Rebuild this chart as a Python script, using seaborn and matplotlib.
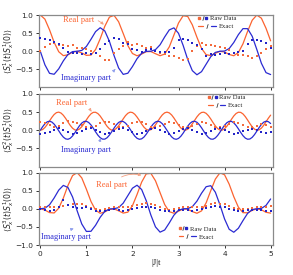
import numpy as np
import pandas as pd
import matplotlib
matplotlib.use("Agg")
import matplotlib.pyplot as plt
import seaborn as sns
from matplotlib.lines import Line2D
from matplotlib.legend_handler import HandlerTuple

# ---------------- data ----------------
t_coarse = np.round(np.arange(51) * 0.1, 2)      # 0 .. 5 step 0.1
t_fine = np.round(np.arange(101) * 0.05, 3)      # 0 .. 5 step 0.05

# panel 1 exact
re1 = [1.000, 0.885, 0.591, 0.247, -0.014, -0.121, -0.097, -0.027, -0.001, -0.046,
       -0.113, -0.106, 0.048, 0.344, 0.689, 0.941, 0.990, 0.813, 0.489, 0.157,
       -0.062, -0.125, -0.077, -0.012, -0.008, -0.068, -0.123, -0.078, 0.121, 0.446,
       0.778, 0.979, 0.960, 0.728, 0.387, 0.078, -0.096, -0.118, -0.055, -0.003,
       -0.020, -0.089, -0.124, -0.036, 0.206, 0.548, 0.856, 0.998, 0.911, 0.633, 0.287]
im1 = [0.000, -0.374, -0.609, -0.635, -0.485, -0.265, -0.089, -0.010, 0.000, 0.023,
       0.131, 0.330, 0.542, 0.649, 0.560, 0.274, -0.116, -0.462, -0.638, -0.606,
       -0.423, -0.205, -0.055, -0.003, 0.001, 0.044, 0.179, 0.395, 0.589, 0.645,
       0.495, 0.164, -0.228, -0.535, -0.649, -0.563, -0.357, -0.151, -0.031, 0.000,
       0.006, 0.074, 0.241, 0.459, 0.624, 0.623, 0.413, 0.050, -0.333, -0.590, -0.643]

# panel 2 exact (fine grid)
re2 = [0.000, 0.020, 0.076, 0.159, 0.257, 0.354, 0.434, 0.486, 0.500, 0.474,
       0.413, 0.327, 0.228, 0.133, 0.056, 0.010, 0.002, 0.033, 0.098, 0.187,
       0.286, 0.380, 0.453, 0.494, 0.496, 0.460, 0.392, 0.299, 0.199, 0.108,
       0.039, 0.003, 0.007, 0.049, 0.122, 0.216, 0.315, 0.404, 0.468, 0.499,
       0.489, 0.442, 0.364, 0.270, 0.172, 0.085, 0.025, 0.000, 0.015, 0.067,
       0.148, 0.245, 0.343, 0.426, 0.481, 0.500, 0.479, 0.423, 0.339, 0.241,
       0.144, 0.064, 0.014, 0.001, 0.027, 0.088, 0.175, 0.274, 0.369, 0.445,
       0.491, 0.498, 0.466, 0.400, 0.311, 0.211, 0.118, 0.046, 0.006, 0.004,
       0.041, 0.111, 0.204, 0.303, 0.394, 0.462, 0.497, 0.493, 0.450, 0.376,
       0.282, 0.183, 0.094, 0.031, 0.001, 0.011, 0.059, 0.137, 0.233, 0.331, 0.417]
im2 = [0.000, 0.097, 0.179, 0.233, 0.250, 0.227, 0.169, 0.084, -0.015, -0.111,
       -0.189, -0.238, -0.249, -0.221, -0.158, -0.070, 0.029, 0.124, 0.198, 0.242,
       0.247, 0.214, 0.146, 0.056, -0.044, -0.136, -0.206, -0.245, -0.245, -0.206,
       -0.134, -0.041, 0.058, 0.148, 0.215, 0.248, 0.241, 0.197, 0.122, 0.027,
       -0.072, -0.160, -0.222, -0.249, -0.237, -0.188, -0.109, -0.012, 0.086, 0.171,
       0.228, 0.250, 0.232, 0.178, 0.095, -0.002, -0.099, -0.181, -0.234, -0.250,
       -0.226, -0.167, -0.082, 0.017, 0.113, 0.191, 0.239, 0.249, 0.220, 0.156,
       0.068, -0.031, -0.125, -0.200, -0.243, -0.247, -0.212, -0.144, -0.054, 0.046,
       0.138, 0.208, 0.246, 0.244, 0.204, 0.132, 0.039, -0.060, -0.150, -0.216,
       -0.248, -0.241, -0.196, -0.120, -0.025, 0.074, 0.161, 0.223, 0.249, 0.237, 0.186]

# panel 3 exact
re3 = [0.000, -0.036, -0.106, -0.116, 0.015, 0.295, 0.641, 0.915, 0.997, 0.851,
       0.540, 0.201, -0.040, -0.125, -0.087, -0.019, -0.003, -0.057, -0.119, -0.094,
       0.083, 0.394, 0.735, 0.963, 0.977, 0.772, 0.444, 0.116, -0.081, -0.123,
       -0.066, -0.007, -0.013, -0.078, -0.125, -0.059, 0.164, 0.498, 0.818, 0.992,
       0.937, 0.679, 0.333, 0.043, -0.108, -0.112, -0.045, -0.001, -0.029, -0.098, -0.121]
im3 = [0.000, 0.015, 0.109, 0.297, 0.514, 0.644, 0.587, 0.325, -0.058, -0.420,
       -0.626, -0.622, -0.455, -0.235, -0.071, -0.006, 0.000, 0.032, 0.155, 0.362,
       0.567, 0.649, 0.530, 0.220, -0.173, -0.500, -0.645, -0.586, -0.391, -0.178,
       -0.042, -0.001, 0.003, 0.057, 0.210, 0.428, 0.608, 0.636, 0.456, 0.108,
       -0.282, -0.566, -0.648, -0.538, -0.326, -0.128, -0.022, 0.000, 0.010, 0.092, 0.270]

# raw data (step 0.1)
raw1_re = [0.00, 0.12, 0.20, 0.23, 0.18, 0.17, 0.15, 0.16, 0.10, 0.08,
           0.05, 0.00, -0.05, -0.14, -0.23, -0.23, -0.05, 0.06, 0.15, 0.26,
           0.16, 0.20, 0.14, 0.10, 0.12, 0.00, -0.05, -0.08, -0.12, -0.14,
           -0.18, -0.25, -0.22, 0.00, 0.15, 0.23, 0.18, 0.16, 0.14, 0.12,
           0.08, 0.04, -0.05, -0.10, -0.11, -0.12, -0.18, -0.14, -0.05, 0.06, 0.14]
raw1_im = [0.37, 0.34, 0.30, 0.26, 0.19, 0.08, -0.03, -0.06, -0.05, -0.07,
           -0.05, -0.07, -0.04, 0.05, 0.20, 0.27, 0.36, 0.34, 0.24, 0.20,
           0.06, 0.03, -0.01, 0.03, 0.05, 0.00, -0.02, -0.01, -0.02, 0.10,
           0.30, 0.34, 0.30, 0.24, 0.16, 0.05, -0.12, -0.08, -0.09, -0.07,
           -0.05, -0.08, -0.05, -0.03, 0.02, 0.19, 0.32, 0.30, 0.28, 0.24, 0.09]
raw2_re = [0.22, 0.20, 0.15, 0.10, 0.12, 0.20, 0.25, 0.24, 0.20, 0.15,
           0.10, 0.08, 0.12, 0.20, 0.24, 0.22, 0.17, 0.10, 0.08, 0.12,
           0.20, 0.23, 0.22, 0.16, 0.10, 0.08, 0.12, 0.18, 0.22, 0.20,
           0.15, 0.10, 0.08, 0.12, 0.18, 0.22, 0.20, 0.15, 0.10, 0.08,
           0.12, 0.18, 0.22, 0.20, 0.14, 0.10, 0.08, 0.12, 0.18, 0.15, 0.10]
raw2_im = [-0.10, -0.08, -0.04, 0.02, 0.05, 0.00, -0.06, -0.10, -0.08, -0.02,
           0.04, 0.05, 0.00, -0.06, -0.10, -0.08, -0.02, 0.04, 0.06, 0.00,
           -0.06, -0.10, -0.08, -0.02, 0.04, 0.05, 0.00, -0.06, -0.09, -0.07,
           -0.02, 0.03, 0.05, 0.00, -0.06, -0.09, -0.07, -0.02, 0.03, 0.05,
           0.00, -0.05, -0.09, -0.08, -0.03, 0.02, 0.04, 0.00, -0.05, -0.08, -0.05]
raw3_re = [0.05, 0.06, 0.05, 0.04, 0.06, 0.08, 0.10, 0.12, 0.14, 0.12,
           0.08, 0.03, -0.02, -0.03, -0.02, 0.02, 0.05, 0.06, 0.05, 0.06,
           0.08, 0.10, 0.14, 0.16, 0.14, 0.10, 0.05, 0.00, -0.03, -0.02,
           0.01, 0.04, 0.06, 0.05, 0.04, 0.06, 0.08, 0.12, 0.15, 0.14,
           0.12, 0.08, 0.03, -0.01, -0.02, 0.00, 0.03, 0.05, 0.05, 0.06, 0.08]
raw3_im = [-0.02, -0.03, -0.05, -0.04, 0.05, 0.23, 0.10, 0.05, 0.03, 0.02,
           0.05, 0.00, -0.05, -0.06, -0.05, -0.03, -0.02, -0.03, -0.05, -0.04,
           -0.02, 0.02, 0.05, 0.06, 0.05, 0.02, -0.03, -0.05, -0.06, -0.05,
           -0.04, -0.03, -0.03, -0.05, -0.04, -0.02, 0.02, 0.05, 0.07, 0.06,
           0.04, 0.00, -0.04, -0.06, -0.05, -0.04, -0.03, -0.03, -0.04, -0.05, -0.05]

ylabels = [r"$\langle S_x^1(t)S_x^1(0)\rangle$",
           r"$\langle S_x^2(t)S_x^1(0)\rangle$",
           r"$\langle S_x^3(t)S_x^1(0)\rangle$"]
xtick_labels = ["0", "1", "2", "3", "4", "5"]
ann_real = "Real part"
ann_imag = "Imaginary part"
leg_raw = "Raw Data"
leg_exact = "Exact"

# ---------------- style ----------------
sns.set_style("ticks")
plt.rcParams["font.family"] = ["DejaVu Sans"]
plt.rcParams["mathtext.fontset"] = "dejavusans"

ORANGE = "#fb6330"
BLUE = "#2b2bd2"
ORANGE_RAW = "#f36a3c"
BLUE_RAW = "#2424c8"
ORANGE_ARR = "#f5a283"
BLUE_ARR = "#8e9eec"
SPINE = "#8a8a8a"
SERIF = ["Liberation Serif", "DejaVu Serif"]

fig = plt.figure(figsize=(2.93, 2.75), dpi=100)
ax_left = 38.7 / 293
ax_w = 234.0 / 293
tops = [15.0, 94.0, 172.5]
h_px = 72.5
axes = []
for top in tops:
    axes.append(fig.add_axes([ax_left, 1 - (top + h_px) / 275, ax_w, h_px / 275]))

panels = [
    (t_coarse, re1, im1, raw1_re, raw1_im),
    (t_fine, re2, im2, raw2_re, raw2_im),
    (t_coarse, re3, im3, raw3_re, raw3_im),
]

for i, (ax, (tt, re, im, rr, ri)) in enumerate(zip(axes, panels)):
    ex = pd.DataFrame({"t": tt, "re": re, "im": im})
    rw = pd.DataFrame({"t": t_coarse, "re": rr, "im": ri})
    sns.lineplot(data=ex, x="t", y="re", ax=ax, color=ORANGE, lw=0.9, estimator=None)
    sns.lineplot(data=ex, x="t", y="im", ax=ax, color=BLUE, lw=0.9, estimator=None)
    sns.scatterplot(data=rw, x="t", y="re", ax=ax, color=ORANGE_RAW, marker="s", s=3.5,
                    linewidth=0, zorder=3)
    sns.scatterplot(data=rw, x="t", y="im", ax=ax, color=BLUE_RAW, marker="s", s=3.5,
                    linewidth=0, zorder=3)
    ax.set_xlim(-0.035, 5.045)
    ax.set_ylim(-1.0, 1.0)
    ax.set_xticks(range(6))
    if i < 2:
        ax.set_yticks([-0.5, 0.0, 0.5, 1.0])
        ax.set_xticklabels([])
        ax.set_xlabel("")
    else:
        ax.set_yticks([-1.0, -0.5, 0.0, 0.5, 1.0])
        ax.set_xticklabels(xtick_labels)
        ax.set_xlabel("|J|t", fontsize=6.5, family=SERIF, labelpad=2)
    ax.set_ylabel(ylabels[i], fontsize=5.6)
    ax.yaxis.set_label_coords(-0.098, 0.5)
    ax.tick_params(axis="both", labelsize=5.3, length=2.5, width=0.7, color="#333333",
                   pad=1.5, direction="out")
    for sp in ax.spines.values():
        sp.set_visible(True)
        sp.set_color(SPINE)
        sp.set_linewidth(0.9)

# ---------------- annotations ----------------
arrow_kw = dict(arrowstyle="-|>", lw=0.6, mutation_scale=4, shrinkA=1, shrinkB=0.5)
ann = [
    # (axis, text, xytext, xy, color, arrowcolor, rad)
    (0, ann_real, (0.82, 0.87), (1.39, 0.72), ORANGE, ORANGE_ARR, -0.3),
    (0, ann_imag, (1.00, -0.73), (1.63, -0.49), BLUE, BLUE_ARR, 0.3),
    (1, ann_real, (0.68, 0.76), (1.12, 0.50), ORANGE, ORANGE_ARR, -0.3),
    (1, ann_imag, (1.00, -0.54), (1.32, -0.20), BLUE, BLUE_ARR, 0.3),
    (2, ann_real, (1.54, 0.66), (2.21, 0.92), ORANGE, ORANGE_ARR, -0.3),
    (2, ann_imag, (0.55, -0.79), (0.74, -0.54), BLUE, BLUE_ARR, -0.3),
]
for k, txt, xyt, xy, col, acol, rad in ann:
    axes[k].annotate(txt, xy=xy, xytext=xyt, color=col, fontsize=6, family=SERIF,
                     ha="center", va="center",
                     arrowprops=dict(color=acol, connectionstyle=f"arc3,rad={rad}", **arrow_kw))

# ---------------- legends ----------------
slash_m = Line2D([], [], ls="none", marker="$/$", color="#333333", markersize=3.0,
                 markeredgewidth=0.2)
h_raw = (Line2D([], [], ls="none", marker="s", color=ORANGE_RAW, markersize=1.8),
         slash_m,
         Line2D([], [], ls="none", marker="s", color=BLUE_RAW, markersize=1.8))
h_ex = (Line2D([], [], color=ORANGE, lw=0.9), slash_m, Line2D([], [], color=BLUE, lw=0.9))

leg_pos = [((0.68, 1.0), (0.68, 0.89)), ((0.72, 1.0), (0.72, 0.89)), ((0.595, 0.27), (0.595, 0.16))]
for ax, (p_raw, p_ex) in zip(axes, leg_pos):
    l1 = ax.legend([h_raw], [leg_raw], loc="upper left", bbox_to_anchor=p_raw,
                   frameon=False, prop={"family": SERIF, "size": 4.8},
                   handler_map={tuple: HandlerTuple(ndivide=None, pad=0.2)},
                   handlelength=1.3, handletextpad=0.4, borderpad=0.1, borderaxespad=0)
    ax.add_artist(l1)
    ax.legend([h_ex], [leg_exact], loc="upper left", bbox_to_anchor=p_ex,
              frameon=False, prop={"family": SERIF, "size": 4.8},
              handler_map={tuple: HandlerTuple(ndivide=None, pad=0.2)},
              handlelength=2.6, handletextpad=0.4, borderpad=0.1, borderaxespad=0)

fig.savefig("out.png", dpi=100)
